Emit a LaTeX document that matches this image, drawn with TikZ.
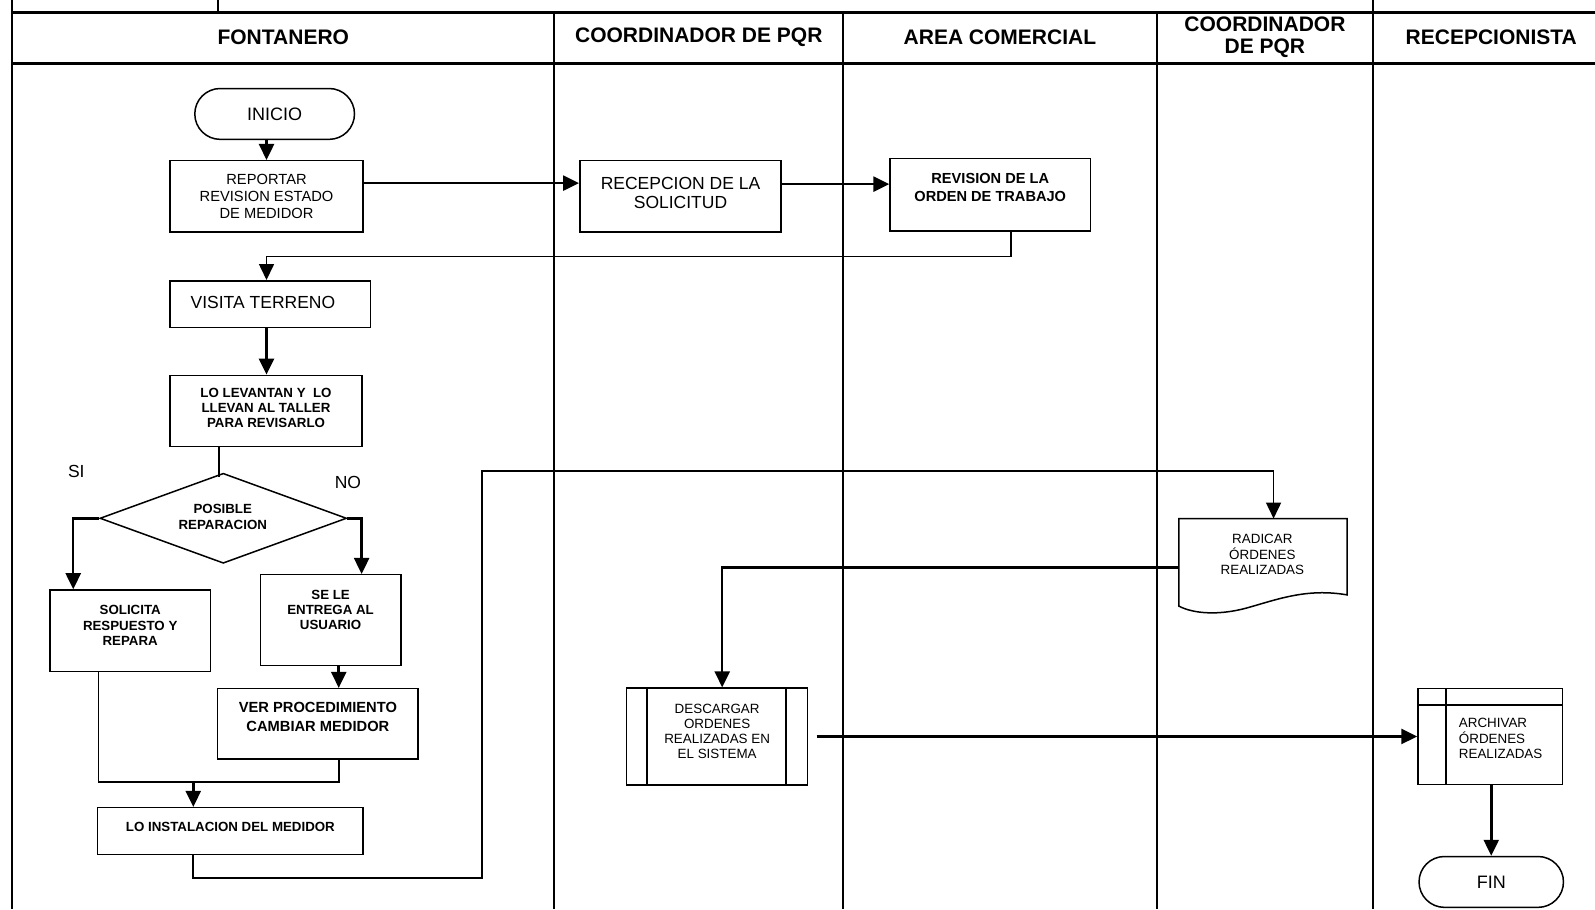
\documentclass[tikz,border=0pt]{standalone}
\usepackage{fontspec}
\setmainfont{Liberation Sans}
\usetikzlibrary{shapes.geometric,shapes.misc,arrows.meta,calc}
\begin{document}
\begin{tikzpicture}[x=1.0172pt,y=-1.0172pt,
 box/.style={draw, line width=1.5pt, inner sep=0pt, align=center},
 term/.style={draw, line width=1.5pt, rounded rectangle, inner sep=0pt},
 arr/.style={line width=2.5pt, -{Triangle[length=16pt,width=15pt]}},
 arrt/.style={line width=1.6pt, -{Triangle[length=16pt,width=15pt]}},
 conn/.style={line width=1.6pt},
 lane/.style={line width=2pt},
 hline/.style={line width=3pt},
 wh/.style 2 args={minimum width={(#1)*1.0172pt}, minimum height={(#2)*1.0172pt}},
 hd/.style={font=\fontsize{21}{21.4}\selectfont\bfseries, align=center, inner sep=0pt},
 tb/.style={font=\fontsize{13.3}{15.4}\selectfont\bfseries, align=center, inner sep=0pt},
 tbl/.style={font=\fontsize{14.7}{19}\selectfont\bfseries, align=center, inner sep=0pt},
 tr/.style={font=\fontsize{13.4}{15.2}\selectfont, align=center, inner sep=0pt},
 trm/.style={font=\fontsize{14.7}{17.3}\selectfont, align=center, inner sep=0pt},
 trl/.style={font=\fontsize{17.5}{19.5}\selectfont, align=center, inner sep=0pt},
]
\useasboundingbox (0,0) rectangle (1568,894);
% ---------- lanes ----------
\draw[hline] (12,12) -- (1575,12);
\draw[hline] (12,62) -- (1575,62);
\draw[lane] (12,0) -- (12,894);
\draw[lane] (214,0) -- (214,12);
\foreach \x in {545,829,1137,1350} \draw[lane] (\x,12) -- (\x,894);
\draw[lane] (1350,0) -- (1350,12);
\node[hd] (h1) at (278.5,37) {FONTANERO};
\node[hd] (h2) at (687,37) {COORDINADOR DE PQR};
\node[hd] (h3) at (983,37) {AREA COMERCIAL};
\node[hd] (h4) at (1243.5,36.5) {COORDINADOR\\DE PQR};
\node[hd] (h5) at (1466,37) {RECEPCIONISTA};
% ---------- shapes ----------
\node[term, wh={157}{50}, font=\fontsize{18}{20}\selectfont] (ini) at (270,112) {INICIO};
\node[box, wh={190}{70}, trm] (rep) at (262,193) {REPORTAR\\REVISION ESTADO\\DE MEDIDOR};
\node[box, wh={198}{70}] (rec) at (669,193) {};
\node[trl] (recT) at (669,189.5) {RECEPCION DE LA\\SOLICITUD};
\node[box, wh={197}{71}] (rev) at (973.5,191.5) {};
\node[font=\fontsize{14.6}{18.2}\selectfont\bfseries, align=center, inner sep=0pt] (revT) at (973.5,184) {REVISION DE LA\\ORDEN DE TRABAJO};
\node[box, wh={197}{46}] (vis) at (265.5,299) {};
\node[trl] (visT) at (258.5,297) {VISITA TERRENO};
\node[box, wh={189}{70}] (lev) at (261.5,404) {};
\node[tb] (levT) at (261.5,401) {LO LEVANTAN Y \ LO\\LLEVAN AL TALLER\\PARA REVISARLO};
\node[draw, line width=1.5pt, diamond, inner sep=0pt, wh={242.5}{88.5}] (dia) at (219.5,509.5) {};
\node[tb] (diaT) at (219,508) {POSIBLE\\REPARACION};
\node[trl] (si) at (75,463) {SI};
\node[trl] (no) at (342,474) {NO};
\node[box, wh={158}{80}] (sol) at (128,620) {};
\node[tb] (solT) at (128,615) {SOLICITA\\RESPUESTO Y\\REPARA};
\node[box, wh={138}{89}] (sel) at (325,609.5) {};
\node[tb] (selT) at (325,599.5) {SE LE\\ENTREGA AL\\USUARIO};
\node[box, wh={197}{69}] (ver) at (312.5,711.5) {};
\node[tbl] (verT) at (312.5,704.5) {VER PROCEDIMIENTO\\CAMBIAR MEDIDOR};
\node[box, wh={261}{46}] (ins) at (226.5,817) {};
\node[tb] (insT) at (226.5,813) {LO INSTALACION DEL MEDIDOR};
% document shape
\node[inner sep=0pt, wh={165}{86}] (rad) at (1241.5,553) {};
\draw[line width=1.5pt] (rad.north west) -- (rad.north east) -- ($(rad.north east)+(0,75)$)
  .. controls ($(rad.north east)+(-40,68)$) and ($(rad.north east)+(-70,80)$) .. ($(rad.north east)+(-99,88)$)
  .. controls ($(rad.north east)+(-125,95)$) and ($(rad.north east)+(-150,94)$) .. ($(rad.north west)+(0,86)$) -- cycle;
\node[tr] (radT) at (1241,545) {RADICAR\\ÓRDENES\\REALIZADAS};
% predefined process
\node[box, wh={178}{95}] (des) at (705,724) {};
\draw[line width=1.5pt] ($(des.north west)+(21,0)$) -- ($(des.south west)+(21,0)$);
\draw[line width=1.5pt] ($(des.north east)+(-22,0)$) -- ($(des.south east)+(-22,0)$);
\node[tr] (desT) at (705,719) {DESCARGAR\\ORDENES\\REALIZADAS EN\\EL SISTEMA};
% internal storage
\node[box, wh={142}{94}] (arc) at (1465,724) {};
\draw[line width=1.5pt] ($(arc.north west)+(0,17)$) -- ($(arc.north east)+(0,17)$);
\draw[line width=1.5pt] ($(arc.north west)+(28,0)$) -- ($(arc.south west)+(28,0)$);
\node[tr, anchor=west, align=left] (arcT) at (1434,726) {ARCHIVAR\\ÓRDENES\\REALIZADAS};
\node[term, wh={142}{50}, font=\fontsize{18}{20}\selectfont] (fin) at (1466,867) {FIN};
% ---------- connectors ----------
\draw[arr] (rep.north |- ini.south) -- (rep.north);
\draw[arr] (rep.east |- 0,180) -- (rec.west |- 0,180);
\draw[arr] (rec.east |- 0,181) -- (rev.west |- 0,181);
\draw[arrt] (rev.south -| 994,0) -- (994,252) -- (262,252) -- (vis.north -| 262,0);
\draw[arr] (vis.south -| 262,0) -- (lev.north -| 262,0);
\draw[conn] (lev.south -| 215,0) -- (215,469);
\draw[arr] (dia.west) -- (72,509.5) -- (sol.north -| 72,0);
\draw[arr] (dia.east) -- (355.5,509.5) -- (sel.north -| 355.5,0);
\draw[arr] (sel.south -| 333,0) -- (ver.north -| 333,0);
\draw[conn] (sol.south -| 97,0) -- (97,769) -- (333,769) -- (ver.south -| 333,0);
\draw[arr] (190,769) -- (ins.north -| 190,0);
\draw[arrt] (ins.south -| 190,0) -- (190,863) -- (474,863) -- (474,463) -- (1252,463) -- (rad.north -| 1252,0);
\draw[arr] (rad.west |- 0,558) -- (710,558) -- (des.north -| 710,0);
\draw[arr] ($(des.east)+(8,0)$) -- (arc.west);
\draw[arr] (arc.south -| fin.north) -- (fin.north);
\end{tikzpicture}
\end{document}
